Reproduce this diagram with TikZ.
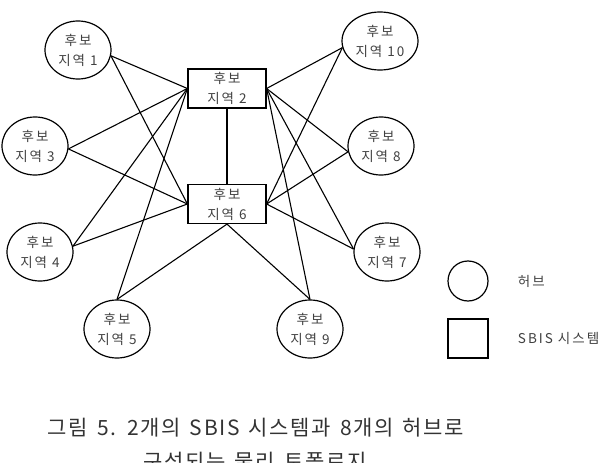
\documentclass[tikz,border=0pt]{standalone}
\usepackage{fontspec}
\setmainfont{Noto Sans CJK KR}
\newfontfamily\hubfamily[LetterSpace=15]{Noto Sans CJK KR}
\newfontfamily\capfamily[LetterSpace=8,WordSpace=1.4]{Noto Sans CJK KR}
\usepackage{tikz}
\usetikzlibrary{shapes.geometric}
\newcommand{\hubfont}{\hubfamily\fontsize{13.5}{20}\selectfont}
\newcommand{\capfont}{\capfamily\fontsize{21}{34}\selectfont}

\begin{document}
\begin{tikzpicture}[x=1pt,y=-1pt,line width=1.2pt,
  hub/.style={draw,ellipse,inner sep=0pt,minimum width=66pt,minimum height=58pt,align=center,font=\hubfont,text=black!75},
  sbis/.style={draw,rectangle,inner sep=0pt,minimum width=78pt,minimum height=39pt,align=center,font=\hubfont,text=black!75},
  link/.style={draw,line width=1.1pt}]
  \useasboundingbox (0,0) rectangle (614,463);
  % SBIS systems
  \node[sbis] (b2) at (227,88.5) {후보\\지역 2};
  \node[sbis] (b6) at (227,204) {후보\\지역 6};
  % hubs
  \foreach \n/\x/\y in {1/78/50,3/35/146,4/40/252,5/117/329,9/310/329,7/387/252,8/381/146}{
    \node[hub] (e\n) at (\x,\y) {후보\\지역 \n};
  }
  \node[hub,minimum width=76pt] (e10) at (380,41) {후보\\지역 10};
  % links
  \foreach \n/\a in {1/-10,3/-5,4/10,5/north}{
    \draw[link] (e\n.\a) -- (b2.west);
  }
  \foreach \n/\a in {10/190,8/190,7/175,9/north}{
    \draw[link] (e\n.\a) -- (b2.east);
  }
  \foreach \n/\a in {1/-10,3/-5,4/10}{
    \draw[link] (e\n.\a) -- (b6.west);
  }
  \foreach \n/\a in {10/190,8/190,7/175}{
    \draw[link] (e\n.\a) -- (b6.east);
  }
  \draw[link] (e5.north) -- (b6.south) -- (e9.north);
  \draw[link] (b2.south) -- (b6.north);
  % legend
  \node[draw,circle,minimum size=40pt,inner sep=0pt] (lhub) at (468,281) {};
  \node[draw,rectangle,minimum width=40pt,minimum height=39pt,inner sep=0pt] (lsbis) at (468,338.5) {};
  \node[anchor=west,font=\hubfont,text=black!75] (thub) at (514,281) {허브};
  \node[anchor=west,font=\hubfont,text=black!75] (tsbis) at (514,338.5) {SBIS 시스템};
  % caption
  \node[font=\capfont,text=black!80] (cap1) at (256,428) {그림 5. 2개의 SBIS 시스템과 8개의 허브로};
  \node[font=\capfont,text=black!80] (cap2) at (255,462) {구성되는 물리 토폴로지};
\end{tikzpicture}
\end{document}
